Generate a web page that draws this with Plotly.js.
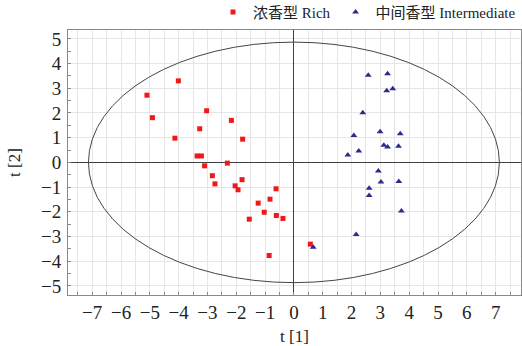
<!DOCTYPE html>
<html>
<head>
<meta charset="utf-8">
<script src="https://cdn.plot.ly/plotly-3.0.1.min.js"></script>
<style>html,body{margin:0;padding:0;background:#fff;}#chart{width:522px;height:346px;}</style>
</head>
<body>
<div id="chart"></div>
<script>
// Rich (浓香型) scores
const richT1 = [-4.01, -5.10, -3.03, -4.91, -2.17, -3.27, -4.13, -1.78, -3.36, -3.21, -3.10, -2.31,
                -2.83, -2.74, -2.04, -1.94, -1.80, -0.62, -0.83, -1.24, -1.03, -0.61, -0.38, -1.55, -0.86, 0.57];
const richT2 = [3.30, 2.72, 2.09, 1.81, 1.70, 1.36, 0.98, 0.94, 0.26, 0.26, -0.14, -0.03,
                -0.54, -0.87, -0.95, -1.11, -0.70, -1.07, -1.49, -1.65, -2.02, -2.15, -2.27, -2.30, -3.77, -3.31];
// Intermediate (中间香型) scores
const interT1 = [2.58, 3.25, 3.22, 3.43, 2.39, 2.99, 3.69, 2.08, 3.12, 3.25, 3.63, 2.25, 1.87,
                 2.93, 3.02, 3.64, 2.61, 2.61, 3.73, 2.16, 0.67];
const interT2 = [3.53, 3.59, 2.90, 2.98, 2.01, 1.24, 1.16, 1.09, 0.69, 0.62, 0.65, 0.46, 0.30,
                 -0.35, -0.79, -0.77, -1.05, -1.34, -1.97, -2.92, -3.44];
// Hotelling T2 ellipse semi-axes
const ellipseA = 7.13;
const ellipseB = 4.87;
const xTicks = [-7, -6, -5, -4, -3, -2, -1, 0, 1, 2, 3, 4, 5, 6, 7];
const yTicks = [-5, -4, -3, -2, -1, 0, 1, 2, 3, 4, 5];

const serif = "Liberation Serif, Times New Roman, Noto Sans CJK SC, serif";

const traces = [
  {x: richT1, y: richT2, type: 'scatter', mode: 'markers', name: '浓香型 Rich',
   marker: {symbol: 'square', size: 5, color: '#f01818'}},
  {x: interT1, y: interT2, type: 'scatter', mode: 'markers', name: '中间香型 Intermediate',
   marker: {symbol: 'triangle-up', size: 6, color: '#2b2b8c'}}
];

const axisCommon = {
  showline: true, mirror: true, linecolor: '#8a8a8a', linewidth: 1,
  showgrid: true, gridcolor: '#e6e6e6', gridwidth: 1,
  zeroline: true, zerolinecolor: '#404040', zerolinewidth: 1,
  ticks: 'inside', ticklen: 3, tickcolor: '#8a8a8a',
  tickfont: {family: serif, size: 19, color: '#222'},
  tickmode: 'array', automargin: false
};

const layout = {
  width: 522, height: 346,
  margin: {l: 68, r: 1, t: 30, b: 51, autoexpand: false},
  paper_bgcolor: '#fff', plot_bgcolor: '#fff',
  showlegend: true,
  legend: {orientation: 'h', x: 1, xanchor: 'right', y: 1.005, yanchor: 'bottom',
           font: {family: serif, size: 15, color: '#222'}, itemwidth: 30, tracegroupgap: 0,
           bgcolor: 'rgba(0,0,0,0)'},
  xaxis: Object.assign({}, axisCommon, {
    range: [-7.84, 7.88], tickvals: xTicks, ticktext: xTicks.map(v => v < 0 ? '\u2212' + (-v) : String(v)),
    minor: {dtick: 0.5, tick0: 0, showgrid: true, gridcolor: '#e6e6e6', ticks: 'inside', ticklen: 3, tickcolor: '#8a8a8a'},
    ticklabelstandoff: 0,
    title: {text: 't [1]', font: {family: serif, size: 17, color: '#222'}, standoff: 10}
  }),
  yaxis: Object.assign({}, axisCommon, {
    range: [-5.37, 5.36], tickvals: yTicks, ticktext: yTicks.map(v => v < 0 ? '\u2212' + (-v) : String(v)),
    minor: {dtick: 0.5, tick0: 0, showgrid: false, ticks: 'inside', ticklen: 3, tickcolor: '#8a8a8a'},
    ticklabelstandoff: 2,
    title: {text: 't [2]', font: {family: serif, size: 17, color: '#222'}, standoff: 16}
  }),
  shapes: [{type: 'circle', xref: 'x', yref: 'y', x0: -ellipseA, x1: ellipseA, y0: -ellipseB, y1: ellipseB,
            line: {color: '#454545', width: 1}}]
};

Plotly.newPlot('chart', traces, layout, {displayModeBar: false, staticPlot: true});
</script>
</body>
</html>
